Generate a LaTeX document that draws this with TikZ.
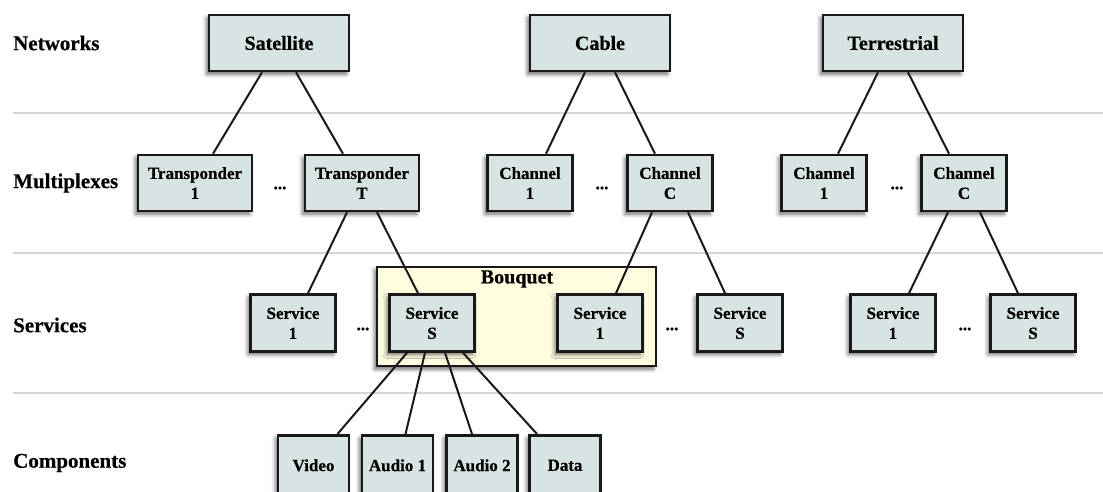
\documentclass[tikz,border=0pt]{standalone}
\usepackage{fontspec}
\setmainfont{Liberation Serif}[BoldFeatures={FakeBold=0.5}]
\usetikzlibrary{shadows.blur}
\definecolor{boxfill}{RGB}{216,228,228}
\definecolor{bouquetfill}{RGB}{255,252,224}
\definecolor{rulegray}{RGB}{214,214,214}

\begin{document}
\begin{tikzpicture}[x=1pt,y=-1pt,
  shade/.style={blur shadow={shadow xshift=-2.5pt,shadow yshift=-3pt,shadow opacity=60,shadow blur radius=4pt}},
  box/.style={draw=black!90,line width=2.6pt,fill=boxfill,inner sep=0pt,align=center,shade,
    minimum width=85pt,minimum height=57pt,font=\fontsize{17}{20}\selectfont\bfseries},
  netbox/.style={box,minimum width=140pt,minimum height=56pt,font=\fontsize{20}{24}\selectfont\bfseries},
  compbox/.style={box,minimum width=71pt,minimum height=60pt,anchor=north},
  level/.style={anchor=west,inner sep=0pt,font=\fontsize{21}{25}\selectfont\bfseries},
  dots/.style={font=\fontsize{17}{20}\selectfont\bfseries},
  link/.style={line width=2pt,black!90}]
\useasboundingbox (0,0) rectangle (1103,491);

% rows
\foreach \y in {113,253,393}
  \draw[rulegray,line width=1.4pt] (13,\y) -- (1103,\y);
\node[level] (lnet) at (13,43) {Networks};
\node[level] (lmux) at (13,183) {Multiplexes};
\node[level] (lsrv) at (13,325) {Services};
\node[level] (lcmp) at (13,463) {Components};

% bouquet
\node[draw=black!90,line width=2.6pt,fill=bouquetfill,shade,minimum width=279pt,minimum height=99pt] (bq) at (516.5,316.5) {};
\node[font=\fontsize{20}{24}\selectfont\bfseries] (bqlabel) at (517,279) {Bouquet};

% networks
\node[netbox] (sat) at (279,43) {Satellite};
\node[netbox] (cab) at (600,43) {Cable};
\node[netbox] (ter) at (893,43) {Terrestrial};

% multiplexes
\node[box,minimum width=114pt,minimum height=56pt] (tp1) at (195,183) {Transponder\\1};
\node[box,minimum width=114pt,minimum height=56pt] (tpT) at (362,183) {Transponder\\T};
\node[box,minimum height=56pt] (cch1) at (530,183) {Channel\\1};
\node[box,minimum height=56pt] (cchC) at (670,183) {Channel\\C};
\node[box,minimum height=56pt] (tch1) at (824,183) {Channel\\1};
\node[box,minimum height=56pt] (tchC) at (964,183) {Channel\\C};
\node[dots] (d1) at (280,188) {...};
\node[dots] (d2) at (602,188) {...};
\node[dots] (d3) at (897,188) {...};

% services
\node[box] (ss1) at (293,323) {Service\\1};
\node[box] (ssS) at (432,323) {Service\\S};
\node[box] (cs1) at (600,323) {Service\\1};
\node[box] (csS) at (740,323) {Service\\S};
\node[box] (ts1) at (893,323) {Service\\1};
\node[box] (tsS) at (1033,323) {Service\\S};
\node[dots] (d4) at (363,329) {...};
\node[dots] (d5) at (672,329) {...};
\node[dots] (d6) at (965,329) {...};

% components
\node[compbox] (video) at (313.5,434) {Video};
\node[compbox] (aud1) at (397.5,434) {Audio 1};
\node[compbox] (aud2) at (482,434) {Audio 2};
\node[compbox] (data) at (565,434) {Data};

% links
\draw[link] ([xshift=-17pt]sat.south) -- ([xshift=18pt]tp1.north);
\draw[link] ([xshift=17pt]sat.south) -- ([xshift=-19pt]tpT.north);
\draw[link] ([xshift=-15pt]cab.south) -- ([xshift=16pt]cch1.north);
\draw[link] ([xshift=15pt]cab.south) -- ([xshift=-15pt]cchC.north);
\draw[link] ([xshift=-15pt]ter.south) -- ([xshift=14pt]tch1.north);
\draw[link] ([xshift=15pt]ter.south) -- ([xshift=-15pt]tchC.north);
\draw[link] ([xshift=-15pt]tpT.south) -- ([xshift=15pt]ss1.north);
\draw[link] ([xshift=15pt]tpT.south) -- ([xshift=-14pt]ssS.north);
\draw[link] ([xshift=-18pt]cchC.south) -- ([xshift=16pt]cs1.north);
\draw[link] ([xshift=18pt]cchC.south) -- ([xshift=-15pt]csS.north);
\draw[link] ([xshift=-16pt]tchC.south) -- ([xshift=16pt]ts1.north);
\draw[link] ([xshift=16pt]tchC.south) -- ([xshift=-15pt]tsS.north);
\draw[link] ([xshift=-25pt]ssS.south) -- ([xshift=24pt]video.north);
\draw[link] ([xshift=-7pt]ssS.south) -- ([xshift=8pt]aud1.north);
\draw[link] ([xshift=13pt]ssS.south) -- ([xshift=-10pt]aud2.north);
\draw[link] ([xshift=31pt]ssS.south) -- ([xshift=-28pt]data.north);
\end{tikzpicture}
\end{document}
